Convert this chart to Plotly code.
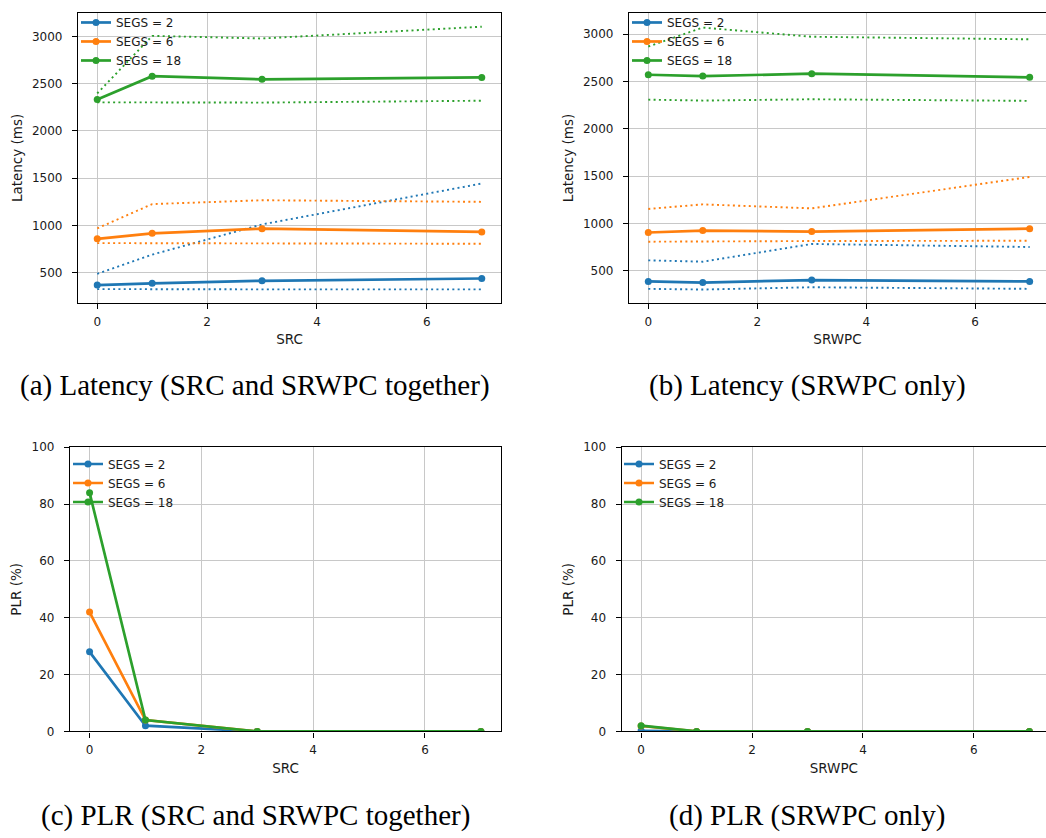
import plotly.graph_objects as go

# Sweep positions on the x axis (SRC / SRWPC count)
x_steps = [0, 1, 3, 7]
segs = [2, 6, 18]
colors = ["#1f77b4", "#ff7f0e", "#2ca02c"]

# (a) Latency, SRC and SRWPC together: mean, upper and lower bound per SEGS
lat_both_mean = [[368, 386, 413, 437], [857, 916, 965, 930], [2334, 2580, 2546, 2567]]
lat_both_hi = [[486, 690, 1010, 1443], [968, 1225, 1266, 1249], [2397, 3007, 2979, 3104]]
lat_both_lo = [[325, 322, 322, 322], [812, 812, 805, 805], [2303, 2300, 2300, 2320]]

# (b) Latency, SRWPC only
lat_srwpc_mean = [[389, 376, 403, 389], [905, 925, 915, 946], [2571, 2557, 2582, 2544]]
lat_srwpc_hi = [[611, 597, 784, 752], [1154, 1202, 1160, 1492], [2869, 3069, 2972, 2945]]
lat_srwpc_lo = [[310, 303, 327, 310], [808, 808, 815, 818], [2308, 2298, 2312, 2295]]

# (c) PLR, SRC and SRWPC together
plr_both = [[28, 2, 0, 0], [42, 4, 0, 0], [84, 4, 0, 0]]
# (d) PLR, SRWPC only
plr_srwpc = [[0.2, 0, 0, 0], [1.9, 0, 0, 0], [2.0, 0, 0, 0]]

captions = [
    "(a) Latency (SRC and SRWPC together)",
    "(b) Latency (SRWPC only)",
    "(c) PLR (SRC and SRWPC together)",
    "(d) PLR (SRWPC only)",
]

W, H = 1046, 838
SANS = "DejaVu Sans"
SERIF = "Liberation Serif"


def px_x(a, b):
    return [a / W, b / W]


def px_y(top, bottom):
    return [(H - bottom) / H, (H - top) / H]


fig = go.Figure()

panels = [
    dict(ax="x", ay="y", lg="legend", xd=px_x(78, 501), yd=px_y(6, 301),
         xr=[-0.35, 7.35], yr=[178, 3250], mirror=True, xt="SRC", yt="Latency (ms)"),
    dict(ax="x2", ay="y2", lg="legend2", xd=px_x(629, 1046), yd=px_y(6, 301),
         xr=[-0.354, 7.30], yr=[161, 3224], mirror=False, xt="SRWPC", yt="Latency (ms)"),
    dict(ax="x3", ay="y3", lg="legend3", xd=px_x(70, 501), yd=px_y(447.7, 736.7),
         xr=[-0.35, 7.36], yr=[0, 100], mirror=True, xt="SRC", yt="PLR (%)"),
    dict(ax="x4", ay="y4", lg="legend4", xd=px_x(621.7, 1046), yd=px_y(447.7, 736.7),
         xr=[-0.35, 7.30], yr=[0, 100], mirror=False, xt="SRWPC", yt="PLR (%)"),
]

lat_sets = [
    (lat_both_mean, lat_both_hi, lat_both_lo),
    (lat_srwpc_mean, lat_srwpc_hi, lat_srwpc_lo),
]
plr_sets = [plr_both, plr_srwpc]

DOT = "2px,3.3px"

for p_i, p in enumerate(panels):
    for s_i, seg in enumerate(segs):
        c = colors[s_i]
        if p_i < 2:
            mean, hi, lo = lat_sets[p_i]
            for band in (hi[s_i], lo[s_i]):
                fig.add_trace(go.Scatter(
                    x=x_steps, y=band, mode="lines", xaxis=p["ax"], yaxis=p["ay"],
                    line=dict(color=c, width=1.9, dash=DOT), showlegend=False,
                    hoverinfo="skip", cliponaxis=True))
            yv = mean[s_i]
        else:
            yv = plr_sets[p_i - 2][s_i]
        fig.add_trace(go.Scatter(
            x=x_steps, y=yv, mode="lines+markers", name=f"SEGS = {seg}",
            xaxis=p["ax"], yaxis=p["ay"], legend=p["lg"],
            line=dict(color=c, width=2.7), marker=dict(color=c, size=7),
            cliponaxis=True))

axis_common = dict(
    showline=True, linecolor="black", linewidth=1.3,
    ticks="outside", ticklen=5, tickwidth=1.3, tickcolor="black",
    showgrid=True, gridcolor="#c8c8c8", gridwidth=1.2, zeroline=False,
    tickfont=dict(family=SANS, size=12, color="#1a1a1a"),
    title_font=dict(family=SANS, size=13.5, color="#1a1a1a"),
)

layout = dict(
    width=W, height=H, margin=dict(l=0, r=0, t=0, b=0),
    paper_bgcolor="white", plot_bgcolor="white",
    showlegend=True,
)

legend_pos = [(76, 1), (627, 1), (68, 450), (619, 450)]

for p_i, p in enumerate(panels):
    xs = "xaxis" if p_i == 0 else f"xaxis{p_i + 1}"
    ys = "yaxis" if p_i == 0 else f"yaxis{p_i + 1}"
    layout[xs] = dict(
        axis_common, domain=p["xd"], range=p["xr"], anchor=p["ay"],
        tickvals=[0, 2, 4, 6], mirror=True, ticklabelstandoff=2,
        title=dict(text=p["xt"], standoff=7),
    )
    ytick = [0, 20, 40, 60, 80, 100] if p_i >= 2 else [500, 1000, 1500, 2000, 2500, 3000]
    layout[ys] = dict(
        axis_common, domain=p["yd"], range=p["yr"], anchor=p["ax"],
        tickvals=ytick, mirror=p["mirror"], ticklabelstandoff=7,
        title=dict(text=p["yt"], standoff=6),
    )
    lx, ly = legend_pos[p_i]
    layout[p["lg"]] = dict(
        x=lx / W, y=1 - ly / H, xanchor="left", yanchor="top",
        bgcolor="rgba(0,0,0,0)", borderwidth=0,
        font=dict(family=SANS, size=12, color="#1a1a1a"),
        tracegroupgap=0, itemwidth=30,
    )

fig.update_layout(**layout)

caption_pos = [(255, 385), (807, 385), (255, 822), (807, 822)]
for text, (cx, cy) in zip(captions, caption_pos):
    fig.add_annotation(
        text=text, x=cx / W, y=1 - cy / H, xref="paper", yref="paper",
        xanchor="center", yanchor="middle", showarrow=False,
        font=dict(family=SERIF, size=29, color="black"),
    )

fig.write_html("out.html")
